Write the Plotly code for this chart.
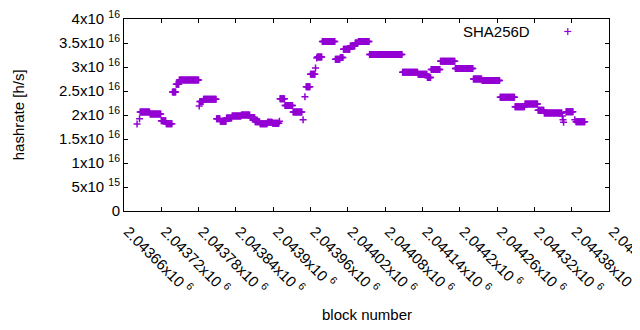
import plotly.graph_objects as go

# ---- data (runs of equal hashrate estimate) ----
seg_first_block = [2043681, 2043685, 2043686, 2043702, 2043720, 2043728, 2043738, 2043744,
                   2043749, 2043781, 2043782, 2043788, 2043809, 2043815, 2043825, 2043834,
                   2043849, 2043863, 2043871, 2043879, 2043891, 2043899, 2043910, 2043911,
                   2043919, 2043932, 2043948, 2043951, 2043953, 2043960, 2043968, 2043970,
                   2043971, 2043979, 2044000, 2044008, 2044013, 2044024, 2044032, 2044037,
                   2044055, 2044108, 2044133, 2044148, 2044154, 2044169, 2044193, 2044222,
                   2044236, 2044265, 2044289, 2044305, 2044326, 2044336, 2044365, 2044366,
                   2044367, 2044371, 2044385, 2044387]
seg_last_block = [2043681, 2043685, 2043701, 2043719, 2043727, 2043737, 2043743, 2043748,
                  2043780, 2043781, 2043787, 2043808, 2043814, 2043824, 2043833, 2043848,
                  2043862, 2043870, 2043878, 2043890, 2043898, 2043909, 2043910, 2043918,
                  2043931, 2043946, 2043948, 2043951, 2043959, 2043967, 2043968, 2043970,
                  2043978, 2043999, 2044007, 2044012, 2044023, 2044031, 2044036, 2044054,
                  2044107, 2044132, 2044147, 2044153, 2044168, 2044192, 2044221, 2044235,
                  2044264, 2044288, 2044304, 2044325, 2044335, 2044364, 2044365, 2044366,
                  2044367, 2044382, 2044385, 2044401]
seg_hashrate = [1.81e16, 1.92e16, 2.06e16, 2.02e16, 1.88e16, 1.82e16, 2.48e16, 2.64e16,
                2.73e16, 2.19e16, 2.28e16, 2.33e16, 1.92e16, 1.87e16, 1.94e16, 1.98e16,
                2.00e16, 1.95e16, 1.86e16, 1.82e16, 1.85e16, 1.83e16, 1.87e16, 2.34e16,
                2.20e16, 2.06e16, 1.90e16, 2.38e16, 2.59e16, 2.85e16, 2.98e16, 3.19e16,
                3.21e16, 3.53e16, 3.16e16, 3.20e16, 3.37e16, 3.44e16, 3.50e16, 3.53e16,
                3.26e16, 2.89e16, 2.85e16, 2.78e16, 2.95e16, 3.12e16, 2.97e16, 2.75e16,
                2.72e16, 2.37e16, 2.17e16, 2.23e16, 2.10e16, 2.04e16, 1.98e16, 1.90e16,
                1.85e16, 2.07e16, 1.90e16, 1.86e16]

x_tick_vals = [2043660, 2043720, 2043780, 2043840, 2043900, 2043960, 2044020,
               2044080, 2044140, 2044200, 2044260, 2044320, 2044380, 2044440]
x_tick_mantissa = ["2.04366", "2.04372", "2.04378", "2.04384", "2.0439", "2.04396", "2.04402",
                   "2.04408", "2.04414", "2.0442", "2.04426", "2.04432", "2.04438", "2.04444"]
y_tick_vals = [0, 5e15, 1e16, 1.5e16, 2e16, 2.5e16, 3e16, 3.5e16, 4e16]
y_tick_text_raw = ["0", "5x10|15", "1x10|16", "1.5x10|16", "2x10|16", "2.5x10|16",
                   "3x10|16", "3.5x10|16", "4x10|16"]

series_name = "SHA256D"
color = "#9400D3"
FONT = "Liberation Sans"
FS = 15

# expand each run into one point per block
blocks, rates = [], []
for b0, b1, v in zip(seg_first_block, seg_last_block, seg_hashrate):
    for b in range(b0, b1 + 1):
        blocks.append(b)
        rates.append(v)


def sup(t):
    if "|" not in t:
        return t
    m, e = t.split("|")
    return m + " <sup>" + e + "</sup>"


fig = go.Figure()
fig.add_trace(go.Scatter(
    x=blocks, y=rates, mode="markers", name=series_name, showlegend=False,
    marker=dict(symbol="cross-thin", size=5, color=color,
                line=dict(color=color, width=1.5)),
))

axis_common = dict(showline=True, linecolor="black", linewidth=1, mirror="ticks",
                   ticks="inside", ticklen=4, tickcolor="black", tickwidth=1,
                   showgrid=False, zeroline=False, automargin=False,
                   ticklabeloverflow="allow",
                   tickfont=dict(family=FONT, size=FS, color="black"))

# the page body has an 8px default margin: size the figure so the plot lands
# at the same pixel position as the reference inside the 640x330 window
fig.update_layout(
    template="none",
    width=632, height=322, autosize=False,
    margin=dict(l=116, r=31, t=11, b=119),
    paper_bgcolor="white", plot_bgcolor="white",
    font=dict(family=FONT, size=FS, color="black"),
    xaxis=dict(range=[2043660, 2044440], tickvals=x_tick_vals,
               ticktext=[m + "x10 <sup>6</sup>" for m in x_tick_mantissa],
               tickangle=45, ticklabelstandoff=5, ticklabelshift=4, **axis_common),
    yaxis=dict(range=[0, 4e16], tickvals=y_tick_vals,
               ticktext=[sup(t) for t in y_tick_text_raw], **axis_common),
    showlegend=False,
)

# axis titles
fig.add_annotation(text="block number", xref="paper", yref="paper", x=0.5, y=-0.54,
                   xanchor="center", yanchor="middle", showarrow=False,
                   font=dict(family=FONT, size=FS, color="black"))
fig.add_annotation(text="hashrate [h/s]", xref="paper", yref="paper", x=-0.218, y=0.5,
                   xanchor="center", yanchor="middle", textangle=-90, showarrow=False,
                   font=dict(family=FONT, size=FS, color="black"))

# gnuplot-style key: text then sample marker
fig.add_annotation(text=series_name, xref="paper", yref="paper", x=0.841, y=0.935,
                   xanchor="right", yanchor="middle", showarrow=False,
                   font=dict(family=FONT, size=FS, color="black"))
kx, ky, kh = 0.915, 0.935, 3.5
fig.add_shape(type="line", xref="paper", yref="paper",
              x0=kx - kh / 485, x1=kx + kh / 485, y0=ky, y1=ky,
              line=dict(color=color, width=1.2))
fig.add_shape(type="line", xref="paper", yref="paper",
              x0=kx, x1=kx, y0=ky - kh / 192, y1=ky + kh / 192,
              line=dict(color=color, width=1.2))

fig.write_html("out.html")
